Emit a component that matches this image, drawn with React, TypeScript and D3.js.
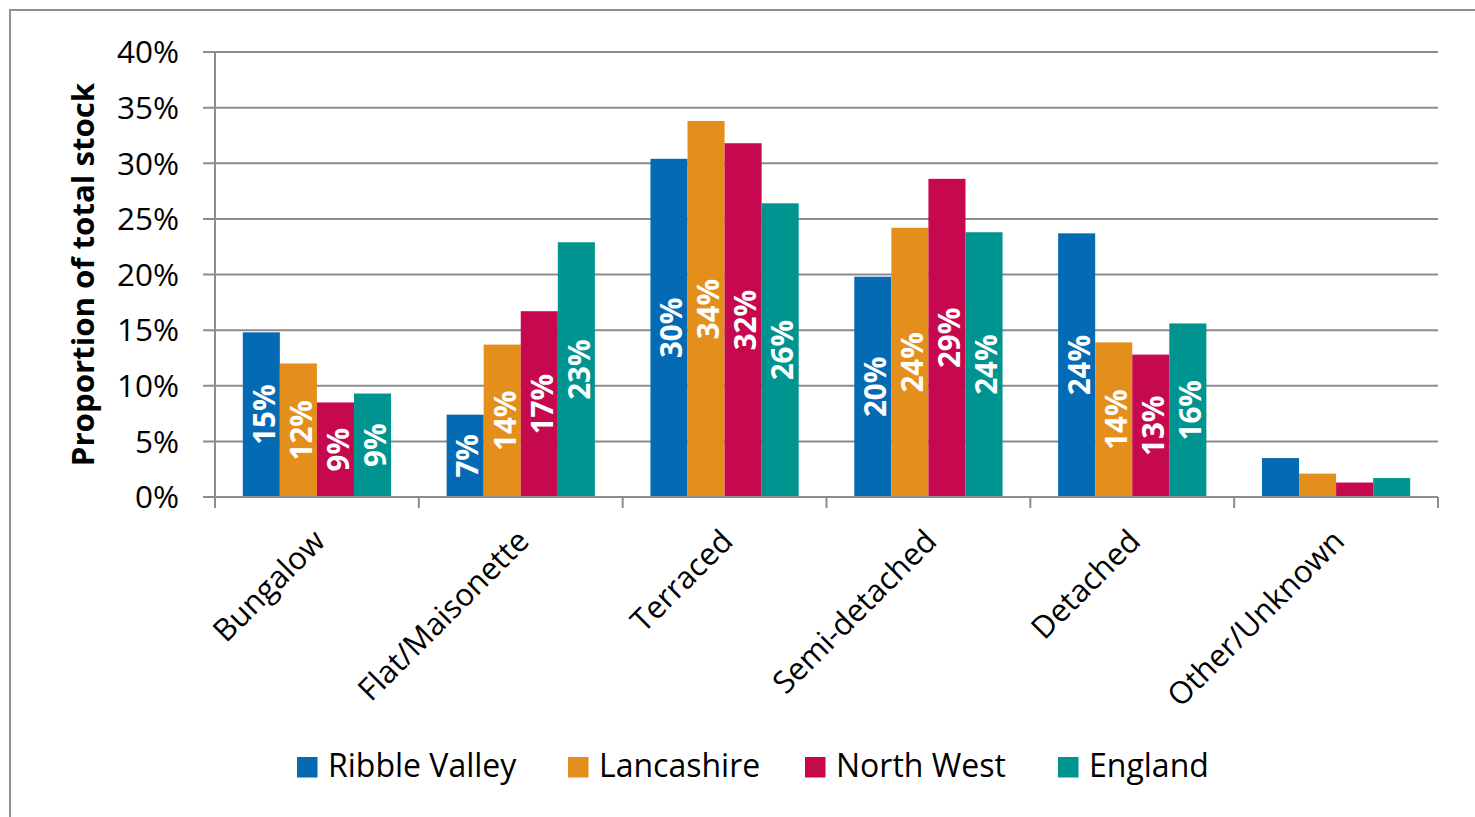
import React from "react";
import * as d3 from "d3";

const categories = ["Bungalow", "Flat/Maisonette", "Terraced", "Semi-detached", "Detached", "Other/Unknown"];
const seriesNames = ["Ribble Valley", "Lancashire", "North West", "England"];
const seriesColors = ["#056AB4", "#E48E1C", "#C6084F", "#009490"];
const ribbleValley = [0.148, 0.074, 0.304, 0.198, 0.237, 0.035];
const lancashire = [0.120, 0.137, 0.338, 0.242, 0.139, 0.021];
const northWest = [0.085, 0.167, 0.318, 0.286, 0.128, 0.013];
const england = [0.093, 0.229, 0.264, 0.238, 0.156, 0.017];
const showLabels = [true, true, true, true, true, false];
const yTicks = [0, 0.05, 0.1, 0.15, 0.2, 0.25, 0.3, 0.35, 0.4];
const yTitle = "Proportion of total stock";

const seriesValues = [ribbleValley, lancashire, northWest, england];

const W = 1475;
const H = 817;
const FONT = "'Open Sans', 'Liberation Sans', sans-serif";
const GRID = "#8c8c8c";

export default function App() {
  const left = 215;
  const right = 1438;
  const top = 52;
  const bottom = 497;

  const x0 = d3.scaleBand<string>().domain(categories).range([left, right]).paddingInner(0).paddingOuter(0);
  const bw = x0.bandwidth();
  const groupW = (bw * 4) / 5.5;
  const offset = (bw - groupW) / 2;
  const x1 = d3.scaleBand<string>().domain(seriesNames).range([offset, offset + groupW]).padding(0);
  const y = d3.scaleLinear().domain([0, 0.4]).range([bottom, top]);
  const fmt = d3.format(".0%");

  const boundaries = categories.map((c) => x0(c) as number).concat([right]);

  const legendX = [297, 568, 805, 1058];

  return (
    <svg width={W} height={H} style={{ position: "absolute", left: 0, top: 0, background: "#fff" }}>
      <rect x={10} y={10} width={W + 20} height={H + 20} fill="#fff" stroke="#8f8f8f" strokeWidth={2} />

      {/* gridlines */}
      {yTicks.map((t) => (
        <line key={"g" + t} x1={203} x2={right} y1={y(t)} y2={y(t)} stroke={GRID} strokeWidth={2} />
      ))}

      {/* bars */}
      {categories.map((c, ci) => (
        <g key={c} transform={`translate(${x0(c)},0)`}>
          {seriesNames.map((s, si) => {
            const v = seriesValues[si][ci];
            const bx = x1(s) as number;
            return (
              <rect key={s} x={bx} y={y(v)} width={x1.bandwidth()} height={bottom - y(v)} fill={seriesColors[si]} />
            );
          })}
          {showLabels[ci] &&
            seriesNames.map((s, si) => {
              const v = seriesValues[si][ci];
              const cx = (x1(s) as number) + x1.bandwidth() / 2;
              const cy = (y(v) + bottom) / 2;
              return (
                <text
                  key={"l" + s}
                  transform={`translate(${cx},${cy}) rotate(-90)`}
                  textAnchor="middle"
                  dy="0.45em"
                  fill="#fff"
                  fontFamily={FONT}
                  fontWeight="bold"
                  fontSize={29.5}
                >
                  {fmt(v)}
                </text>
              );
            })}
        </g>
      ))}

      {/* axes */}
      <line x1={left} x2={left} y1={top} y2={508} stroke={GRID} strokeWidth={2} />
      <line x1={203} x2={right} y1={bottom} y2={bottom} stroke={GRID} strokeWidth={2} />
      {boundaries.map((b, i) => (
        <line key={"t" + i} x1={b} x2={b} y1={bottom} y2={508} stroke={GRID} strokeWidth={2} />
      ))}

      {/* y tick labels */}
      {yTicks.map((t) => (
        <text
          key={"yl" + t}
          x={179}
          y={y(t)}
          dy="0.36em"
          textAnchor="end"
          fontFamily={FONT}
          fontSize={31.5}
          fill="#000"
        >
          {fmt(t)}
        </text>
      ))}

      {/* y title */}
      <text
        transform={`translate(94,${(top + bottom) / 2}) rotate(-90)`}
        textAnchor="middle"
        fontFamily={FONT}
        fontWeight="bold"
        fontSize={31.2}
        fill="#000"
      >
        {yTitle}
      </text>

      {/* category labels */}
      {categories.map((c) => {
        const cx = (x0(c) as number) + bw / 2;
        return (
          <text
            key={"cl" + c}
            transform={`translate(${cx + 10},543) rotate(-45)`}
            textAnchor="end"
            fontFamily={FONT}
            fontSize={31}
            fill="#000"
          >
            {c}
          </text>
        );
      })}

      {/* legend */}
      {seriesNames.map((s, i) => (
        <g key={"lg" + s} transform={`translate(${legendX[i]},757)`}>
          <rect x={0} y={0} width={20.5} height={20.5} fill={seriesColors[i]} />
          <text x={31} y={20} fontFamily={FONT} fontSize={32} fill="#000">
            {s}
          </text>
        </g>
      ))}
    </svg>
  );
}
